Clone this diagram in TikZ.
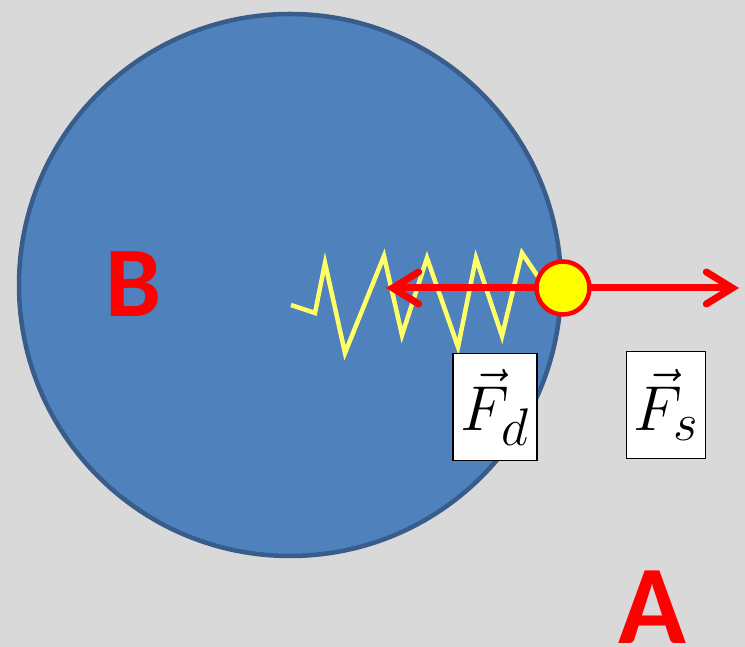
\documentclass[tikz,border=0pt]{standalone}
\usepackage{fontspec}
\usepackage{amsmath}
\usepackage{tikz}
\usetikzlibrary{arrows.meta, positioning, calc}
\newfontfamily\labelfont{Carlito}
\definecolor{mybg}{RGB}{217,217,217}
\definecolor{myblue}{RGB}{79,129,189}
\definecolor{myedge}{RGB}{56,93,138}
\definecolor{myred}{RGB}{255,0,0}
\definecolor{myyellow}{RGB}{255,255,0}
\definecolor{myspring}{RGB}{255,255,102}
\tikzset{
  forcebox/.style={rectangle, draw=black, fill=white, line width=1.8pt,
    font=\Huge, scale=2.55, minimum width=32.5pt, minimum height=42pt, inner sep=0pt},
  bigletter/.style={text=myred, font=\labelfont\bfseries\fontsize{112}{120}\selectfont, inner sep=0pt},
  ball/.style={circle, draw=myred, fill=myyellow, line width=4.5pt,
    minimum size=53pt, inner sep=0pt},
  forcearrow/.style={-{Straight Barb[length=26pt, width=32pt, line cap=round]},
    line width=7pt, color=myred, line cap=round},
  spring/.style={myspring, line width=4.5pt, line join=miter}
}
\begin{document}
\begin{tikzpicture}[x=1pt, y=1pt]
  % background
  \fill[mybg] (0,0) rectangle (745,647);
  \useasboundingbox (0,0) rectangle (745,647);

  % body B
  \filldraw[fill=myblue, draw=myedge, line width=4.5pt] (290,362) circle (271);
  \node[bigletter, font=\labelfont\bfseries\fontsize{100}{104}\selectfont] (bodyB) at (134,363) {B};

  % spring
  \draw[spring] (291,342) -- (315,334) -- (325,384) -- (345,294) -- (384,391)
    -- (402,312) -- (427,389) -- (458,300) -- (476,389) -- (502,311)
    -- (522,394) -- (545,360);

  % ball and forces
  \node[ball] (mass) at (563,359) {};
  \coordinate (tipD) at (386,359);
  \coordinate (tipS) at (739,359);
  \draw[forcearrow] (mass.west) -- (tipD);
  \draw[forcearrow] (mass.east) -- (tipS);

  \node[forcebox, minimum width=33pt] (boxD) at (495,240) {$\vec{F}_{d}$};
  \node[forcebox, minimum width=31pt] (boxS) at (666,242) {$\vec{F}_{s}$};

  % body A
  \node[bigletter] (bodyA) at (652,40) {A};
\end{tikzpicture}
\end{document}
